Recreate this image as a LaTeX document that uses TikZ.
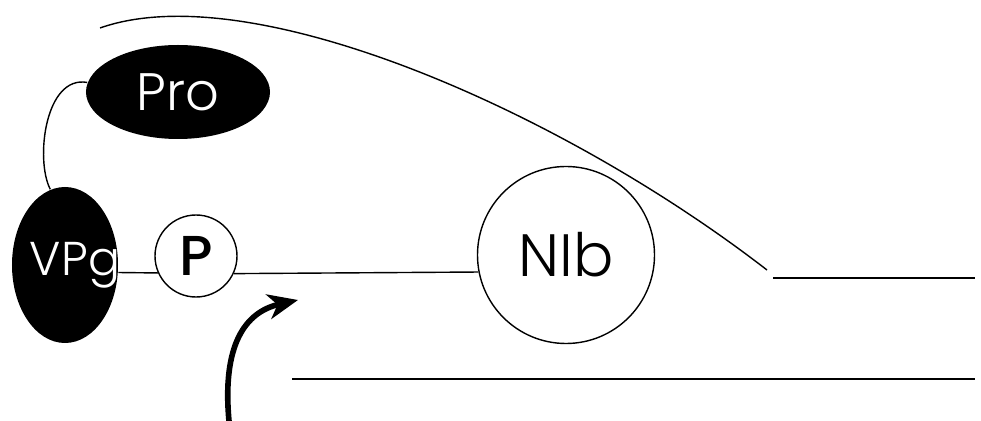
\documentclass[tikz,border=0pt]{standalone}
\usepackage{fontspec}
\setmainfont{Poppins}
\newfontfamily\lightfont{Poppins Light}
\newfontfamily\medfont{Poppins Medium}
\usetikzlibrary{shapes.geometric,arrows.meta}

\begin{document}
\begin{tikzpicture}[x=0.2mm,y=-0.2mm,line width=0.8pt,
  blob/.style={ellipse,fill=black,text=white,inner sep=0pt},
  ring/.style={circle,draw,inner sep=0pt}]
  \useasboundingbox (0,0) rectangle (981,421);
  \node[blob,minimum width=36.8mm,minimum height=18.8mm,font=\lightfont\fontsize{30}{30}\selectfont] (pro) at (178,92) {Pro};
  \node[blob,minimum width=21.2mm,minimum height=31.2mm,
    label={[text=white,xshift=2mm,font=\lightfont\fontsize{27}{27}\selectfont]center:VPg}] (vpg) at (65,265) {};
  \node[ring,minimum size=16.4mm,font=\medfont\fontsize{32}{32}\selectfont] (p) at (196,256) {P};
  \node[ring,minimum size=35.4mm,font=\lightfont\fontsize{34}{34}\selectfont] (nib) at (566,255) {NIb};
  \draw (pro.174) .. controls (45,75) and (35,160) .. (vpg.101);
  \draw (vpg.-8.6) -- (p.204.7);
  \draw (p.-25.9) -- (nib.191.7);
  \draw (100,28) .. controls (250,-25) and (560,110) .. (767,270);
  \draw (773,278) -- (975,278);
  \draw (292,379) -- (975,379);
  \coordinate (tail) at (229,421);
  \coordinate (tip) at (298,300);
  \draw[line width=3.2pt,-{Stealth[length=6mm,width=5mm,inset=1.8mm]}] (tail) .. controls (222,345) and (245,312) .. (tip);
\end{tikzpicture}
\end{document}
